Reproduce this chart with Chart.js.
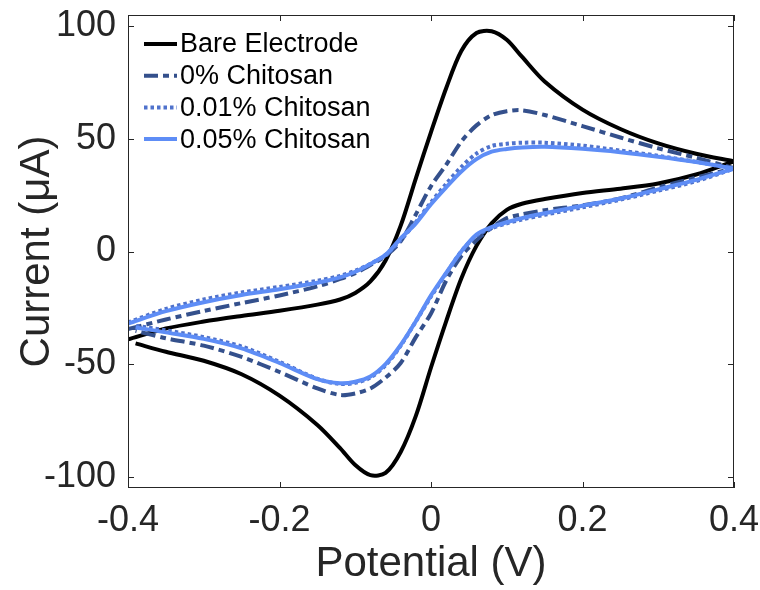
<!DOCTYPE html>
<html>
<head>
<meta charset="utf-8">
<title>Cyclic voltammetry</title>
<script src="https://cdn.jsdelivr.net/npm/chart.js@4/dist/chart.umd.min.js"></script>
<style>
  html, body { margin: 0; padding: 0; background: #fff; }
  #cv { display: block; }
</style>
</head>
<body>
<canvas id="cv" width="760" height="590"></canvas>
<script>
// potential grid (V) for forward scan and reverse scan
const potentialFwd = [-0.4, -0.35, -0.3, -0.25, -0.2, -0.15, -0.12, -0.1, -0.08, -0.06, -0.04, -0.02, 0,
    0.02, 0.04, 0.06, 0.08, 0.1, 0.12, 0.15, 0.2, 0.25, 0.3, 0.35, 0.4];
const potentialRev = [0.4, 0.35, 0.3, 0.25, 0.2, 0.15, 0.12, 0.1, 0.08, 0.06, 0.04, 0.02, 0,
    -0.02, -0.04, -0.06, -0.08, -0.1, -0.12, -0.15, -0.2, -0.25, -0.3, -0.35, -0.39];

// current (µA)
const bareFwd = [-39, -34.2, -31.1, -28.6, -26.3, -23.6, -21.3, -18.4, -13.3, -4, 11.5, 32.5, 53,
    72.5, 89, 97, 97.8, 94, 86.5, 75.5, 63, 54.4, 48, 43.4, 40];
const bareRev = [40, 34.2, 30.2, 27.9, 26, 23.3, 21.2, 18.5, 12.5, 2.5, -12, -31, -51.5,
    -73, -89, -98.3, -99.3, -94.8, -87.3, -77, -64, -54.5, -48.5, -44.5, -40.8];

const chi0Fwd = [-34.4, -30.2, -26.4, -22.9, -19.5, -15.5, -12.2, -9.6, -6, -2, 4.5, 16.5, 29,
    38.5, 48.8, 56, 60.5, 62.3, 62.7, 60.6, 55.7, 50.6, 45.8, 41.6, 37];
const chi0Rev = [37, 32.8, 28.4, 23.6, 20.5, 18.3, 16.5, 14.8, 10.5, 5, -2, -13, -27.5,
    -38, -49.5, -56, -60.8, -63, -63.7, -60.8, -53.5, -46.8, -41.8, -38.5, -35.2];

const chi001Fwd = [-31.5, -25.5, -21.3, -18.2, -15.7, -13, -10.8, -8.5, -5.5, -1.5, 5, 13, 21.8,
    30, 37.5, 43.5, 46.8, 47.8, 48.3, 48.3, 47, 44.8, 42.5, 39.8, 36.8];
const chi001Rev = [36.8, 31.2, 27, 23, 19.6, 16.3, 14.2, 12.5, 10.3, 7, 0, -9.8, -20,
    -31, -41.8, -50.5, -56, -58.3, -58.8, -56.5, -49, -42.2, -38, -35, -33];

const chi005Fwd = [-32, -26.5, -22.5, -19.3, -16.8, -13.9, -11.5, -9, -5.5, -1.5, 5.8, 12.5, 21,
    28.5, 35.5, 41, 44.3, 45.5, 46.2, 46.5, 45.6, 44.1, 42.1, 39.7, 36.8];
const chi005Rev = [36.8, 31.8, 27.6, 23.5, 20.3, 17, 14.8, 13, 10.8, 7.5, 0, -9.5, -19.5,
    -31, -41.5, -50, -55.5, -57.8, -58.5, -56.7, -49.5, -43, -38.8, -35.9, -33.7];

const seriesNames = ['Bare Electrode', '0% Chitosan', '0.01% Chitosan', '0.05% Chitosan'];
const xTicks = [-0.4, -0.2, 0, 0.2, 0.4];
const yTicks = [-100, -50, 0, 50, 100];

const textColor = '#262626';
const fontFamily = "'Liberation Sans', Arial, Helvetica, sans-serif";

// forward + reverse scan joined into one loop
function loop(fwd, rev) {
    const pts = fwd.map((v, i) => ({ x: potentialFwd[i], y: v }));
    return pts.concat(rev.map((v, i) => ({ x: potentialRev[i], y: v })));
}

function fmtTick(v) {
    return v === 0 ? '0' : String(v);
}

// no extra room for overhanging tick labels, keep the axes box fixed
function noOverhang(s) {
    s.paddingTop = 0; s.paddingBottom = 0;
    s.paddingLeft = 0; s.paddingRight = 0;
}

// axes box with inward ticks on all four sides
const framePlugin = {
    id: 'frame',
    afterDatasetsDraw(chart) {
        const { ctx, chartArea: a, scales: { x, y } } = chart;
        const len = 6;
        ctx.save();
        ctx.strokeStyle = textColor;
        ctx.lineWidth = 1;
        ctx.strokeRect(a.left + 0.5, a.top + 0.5, a.right - a.left - 1, a.bottom - a.top - 1);
        ctx.beginPath();
        xTicks.forEach(v => {
            const px = Math.round(x.getPixelForValue(v)) + 0.5;
            ctx.moveTo(px, a.bottom); ctx.lineTo(px, a.bottom - len);
            ctx.moveTo(px, a.top); ctx.lineTo(px, a.top + len);
        });
        yTicks.forEach(v => {
            const py = Math.round(y.getPixelForValue(v)) + 0.5;
            ctx.moveTo(a.left, py); ctx.lineTo(a.left + len, py);
            ctx.moveTo(a.right, py); ctx.lineTo(a.right - len, py);
        });
        ctx.stroke();
        ctx.restore();
    }
};

// legend inside the top-left corner, no box
const legendPlugin = {
    id: 'insideLegend',
    afterDraw(chart) {
        const { ctx, chartArea: a } = chart;
        const x0 = a.left + 16, x1 = a.left + 49, tx = a.left + 52;
        ctx.save();
        ctx.font = '27px ' + fontFamily;
        ctx.textBaseline = 'middle';
        chart.data.datasets.forEach((ds, i) => {
            const yy = a.top + 29 + i * 31.7;
            ctx.strokeStyle = ds.borderColor;
            ctx.lineWidth = ds.borderWidth;
            ctx.setLineDash(ds.borderDash || []);
            ctx.beginPath();
            ctx.moveTo(x0, yy);
            ctx.lineTo(x1, yy);
            ctx.stroke();
            ctx.setLineDash([]);
            ctx.fillStyle = '#000';
            ctx.fillText(ds.label, tx, yy + 1);
        });
        ctx.restore();
    }
};

const lineStyle = { showLine: true, pointRadius: 0, tension: 0.3, fill: false, borderCapStyle: 'butt' };

new Chart(document.getElementById('cv'), {
    type: 'scatter',
    data: {
        datasets: [
            { ...lineStyle, label: seriesNames[0], data: loop(bareFwd, bareRev),
              borderColor: '#000000', borderWidth: 4, order: 3 },
            { ...lineStyle, label: seriesNames[1], data: loop(chi0Fwd, chi0Rev),
              borderColor: '#34508c', borderWidth: 4, borderDash: [14, 5, 6, 5], order: 2 },
            { ...lineStyle, label: seriesNames[2], data: loop(chi001Fwd, chi001Rev),
              borderColor: '#4f72cc', borderWidth: 4, borderDash: [3.5, 3], order: 1 },
            { ...lineStyle, label: seriesNames[3], data: loop(chi005Fwd, chi005Rev),
              borderColor: '#5e8df6', borderWidth: 4, order: 0 }
        ]
    },
    options: {
        responsive: false,
        animation: false,
        devicePixelRatio: 1,
        layout: { padding: { top: 15, right: 26, left: 0, bottom: 0 } },
        plugins: {
            legend: { display: false },
            tooltip: { enabled: false }
        },
        scales: {
            x: {
                type: 'linear', min: -0.4, max: 0.4,
                afterBuildTicks: s => { s.ticks = xTicks.map(v => ({ value: v })); },
                afterFit: s => { s.height = 102; noOverhang(s); },
                grid: { display: false, drawTicks: false },
                border: { display: false },
                ticks: { color: textColor, padding: 11, font: { size: 36, family: fontFamily },
                         maxRotation: 0, callback: fmtTick },
                title: { display: true, text: 'Potential (V)', color: textColor,
                         font: { size: 42, family: fontFamily }, padding: { top: 0, bottom: 0 } }
            },
            y: {
                type: 'linear', min: -105, max: 105,
                afterBuildTicks: s => { s.ticks = yTicks.map(v => ({ value: v })); },
                afterFit: s => { s.width = 128; noOverhang(s); },
                grid: { display: false, drawTicks: false },
                border: { display: false },
                ticks: { color: textColor, padding: 12, font: { size: 36, family: fontFamily },
                         callback: fmtTick },
                title: { display: true, text: 'Current (μA)', color: textColor,
                         font: { size: 42, family: fontFamily }, padding: { top: 12, bottom: 0 } }
            }
        }
    },
    plugins: [framePlugin, legendPlugin]
});
</script>
</body>
</html>
